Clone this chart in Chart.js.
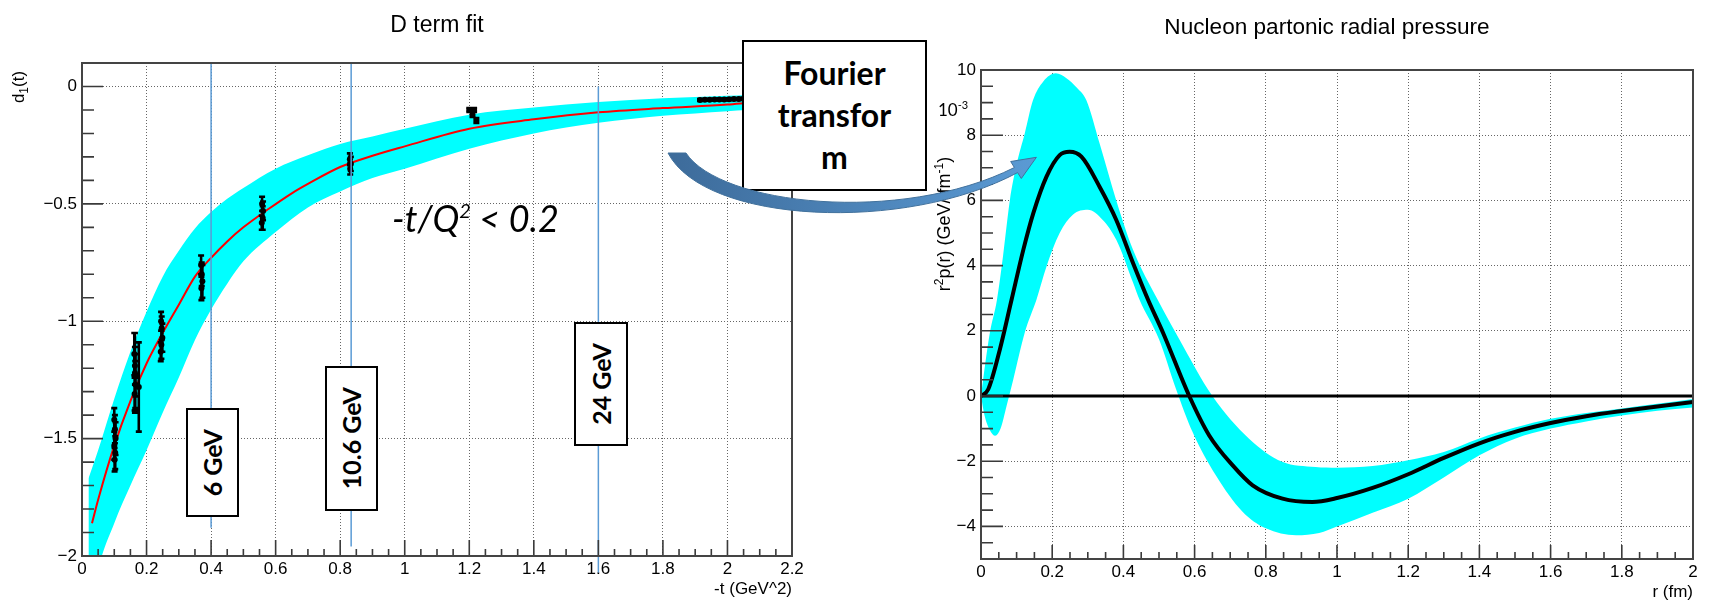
<!DOCTYPE html>
<html><head><meta charset="utf-8">
<script src="https://cdn.jsdelivr.net/npm/chart.js@4.4.1/dist/chart.umd.min.js"></script>
<style>
html,body{margin:0;padding:0;width:1709px;height:603px;overflow:hidden;background:#fff;}
canvas{position:absolute;top:0;}
#c1{left:0;}
#c2{left:930px;}
.box{position:absolute;background:#fff;border:2px solid #000;box-sizing:border-box;display:flex;align-items:center;justify-content:center;font-family:Lato,'Open Sans',sans-serif;font-weight:bold;color:#000;}
.vt{writing-mode:vertical-rl;transform:rotate(180deg);font-size:25px;white-space:nowrap;line-height:1;}
#ft{position:absolute;left:742px;top:40px;width:185px;height:151px;box-sizing:border-box;border:2px solid #000;background:#fff;text-align:center;font-family:Lato,'Open Sans',sans-serif;font-weight:bold;font-size:32px;line-height:42px;padding-top:10px;color:#000;}
#tq{position:absolute;left:392px;top:200px;font-family:Lato,'Open Sans',sans-serif;font-style:italic;font-size:36px;line-height:36px;color:#000;white-space:nowrap;}
#tq span{font-size:20px;position:relative;top:-14px;}
svg{position:absolute;left:0;top:0;pointer-events:none;}
</style>
</head><body>
<canvas id="c1" width="874" height="603"></canvas>
<canvas id="c2" width="779" height="603"></canvas>
<div class="box" style="left:186px;top:408px;width:53px;height:109px"><span class="vt">6 GeV</span></div>
<div class="box" style="left:325px;top:366px;width:53px;height:145px"><span class="vt">10.6 GeV</span></div>
<div class="box" style="left:574px;top:322px;width:54px;height:124px"><span class="vt">24 GeV</span></div>
<div id="tq">-t/Q<span>2</span> &lt; 0.2</div>
<div id="ft">Fourier<br>transfor<br>m</div>
<svg width="1709" height="603">
<defs><linearGradient id="ag" x1="668" y1="0" x2="1040" y2="0" gradientUnits="userSpaceOnUse"><stop offset="0" stop-color="#3d6b9a"/><stop offset="1" stop-color="#5b9bd5"/></linearGradient></defs>
<path d="M668,153 L686,153 C720,205 900,225 1014.4,167.5 L1010.7,161.5 L1036.4,157.3 L1021.3,178.5 L1017.6,172.6 C905,233 705,224 668,153 Z" fill="url(#ag)" stroke="#41719c" stroke-width="1"/>
</svg>
<script>
// ---------- Left chart: D term fit ----------
const leftXTicks = [0,0.2,0.4,0.6,0.8,1,1.2,1.4,1.6,1.8,2,2.2];
const leftXLabels = ['0','0.2','0.4','0.6','0.8','1','1.2','1.4','1.6','1.8','2','2.2'];
const leftYTicks = [-2,-1.5,-1,-0.5,0];
const leftYLabels = ['\u22122','\u22121.5','\u22121','\u22120.5','0'];

const bandT  = [0.02,0.05,0.1,0.15,0.2,0.25,0.3,0.35,0.4,0.45,0.5,0.6,0.7,0.8,0.9,1.0,1.2,1.4,1.6,1.8,2.0,2.06];
const bandHi = [-1.67,-1.55,-1.33,-1.13,-0.96,-0.81,-0.70,-0.605,-0.535,-0.478,-0.432,-0.35,-0.293,-0.245,-0.213,-0.18,-0.12,-0.09,-0.066,-0.05,-0.04,-0.036];
const bandLo = [-2.3,-2.06,-1.86,-1.70,-1.55,-1.39,-1.24,-1.08,-0.95,-0.84,-0.745,-0.62,-0.515,-0.447,-0.39,-0.35,-0.265,-0.2,-0.155,-0.125,-0.105,-0.1];

const fitT = [0.031,0.05,0.1,0.15,0.2,0.25,0.3,0.35,0.4,0.45,0.5,0.58,0.65,0.7,0.8,0.9,1.0,1.2,1.4,1.6,1.8,2.0,2.06];
const fitD = [-1.86,-1.76,-1.53,-1.34,-1.18,-1.05,-0.93,-0.81,-0.73,-0.66,-0.6,-0.52,-0.455,-0.415,-0.343,-0.295,-0.255,-0.18,-0.14,-0.11,-0.092,-0.077,-0.07];

const ptT = [0.100,0.102,0.104,0.100,0.103,0.101, 0.162,0.164,0.166,0.165,0.163,0.176,0.164, 0.245,0.247,0.249,0.246,0.244, 0.369,0.371,0.373,0.370, 0.558,0.561,0.560,0.557, 0.830,0.833,0.831, 1.200,1.215,1.210,1.222, 1.915,1.93,1.945,1.96,1.975,1.99,2.005,2.02,2.035,2.05];
const ptD = [-1.42,-1.46,-1.50,-1.53,-1.56,-1.59, -1.14,-1.19,-1.23,-1.27,-1.31,-1.28,-1.22, -1.00,-1.03,-1.07,-1.10,-1.13, -0.76,-0.80,-0.83,-0.86, -0.50,-0.53,-0.56,-0.58, -0.31,-0.33,-0.35, -0.10,-0.10,-0.12,-0.145, -0.058,-0.057,-0.057,-0.056,-0.055,-0.055,-0.054,-0.053,-0.053,-0.052];
const ptErr = [0.05,0.06,0.07,0.06,0.07,0.05, 0.09,0.08,0.09,0.10,0.07,0.19,0.17, 0.04,0.05,0.06,0.06,0.04, 0.04,0.05,0.07,0.05, 0.03,0.04,0.05,0.03, 0.025,0.03,0.025, 0.008,0.008,0.01,0.01, 0.004,0.004,0.004,0.004,0.004,0.004,0.004,0.004,0.004,0.004];

const markerT = [0.4, 0.834, 1.6];
const markerTop = [0.1, 0.1, 0];
const markerBottom = [-1.88, -1.96, -2.07];

// ---------- Right chart: radial pressure ----------
const rightXTicks = [0,0.2,0.4,0.6,0.8,1,1.2,1.4,1.6,1.8,2];
const rightXLabels = ['0','0.2','0.4','0.6','0.8','1','1.2','1.4','1.6','1.8','2'];
const rightYTicks = [-4,-2,0,2,4,6,8,10];
const rightYLabels = ['\u22124','\u22122','0','2','4','6','8','10'];

const hiR = [0,0.011,0.025,0.045,0.062,0.081,0.1,0.123,0.146,0.175,0.21,0.24,0.27,0.296,0.333,0.38,0.427,0.496,0.557,0.65,0.753,0.846,0.94,1.0,1.1,1.2,1.3,1.4,1.5,1.6,1.7,1.8,1.9,2.0];
const hiV = [0,0.92,1.95,2.96,4.3,6.0,7.1,8.06,9.07,9.65,9.9,9.75,9.45,9.07,7.75,6.0,4.49,2.96,1.74,0,-1.31,-2.02,-2.18,-2.2,-2.15,-1.97,-1.72,-1.3,-0.97,-0.7,-0.52,-0.38,-0.24,-0.09];
const loR = [0,0.01,0.025,0.04,0.055,0.072,0.091,0.123,0.156,0.184,0.221,0.258,0.3,0.342,0.38,0.427,0.445,0.5,0.548,0.594,0.66,0.734,0.8,0.885,0.95,1.0,1.1,1.2,1.3,1.4,1.5,1.6,1.7,1.8,1.9,2.0];
const loV = [0,-0.6,-1.05,-1.22,-1.0,-0.3,0.52,1.95,2.96,3.97,5.0,5.56,5.71,5.4,4.79,3.48,2.96,1.74,0.21,-1.1,-2.44,-3.54,-4.06,-4.27,-4.2,-4.0,-3.58,-3.15,-2.5,-1.82,-1.31,-1.0,-0.78,-0.6,-0.45,-0.35];
const cR = [0,0.02,0.053,0.086,0.119,0.147,0.184,0.221,0.249,0.282,0.333,0.38,0.427,0.469,0.511,0.585,0.641,0.707,0.763,0.847,0.931,1.0,1.1,1.2,1.3,1.4,1.5,1.6,1.7,1.8,1.9,2.0];
const cV = [0,0.2,1.43,2.96,4.49,5.61,6.73,7.39,7.49,7.34,6.42,5.4,4.08,2.96,1.95,0,-1.21,-2.13,-2.74,-3.15,-3.25,-3.13,-2.82,-2.4,-1.9,-1.45,-1.1,-0.83,-0.62,-0.46,-0.32,-0.18];
const zeroR = [0, 2];
const zeroV = [0, 0];

const xy = (xs, ys) => xs.map((v, i) => ({x: v, y: ys[i]}));
const ROOTFONT = "'Liberation Sans', Arial, sans-serif";

// ROOT-style frame with inward tick marks
const rootAxes = {
  id: 'rootAxes',
  afterDraw(chart, args, o) {
    const {ctx, chartArea: a} = chart;
    const xs = chart.scales.x, ys = chart.scales.y;
    ctx.save();
    ctx.strokeStyle = '#3a3a3a';
    ctx.lineWidth = 1.6;
    ctx.beginPath();
    const n1 = Math.round((xs.max - xs.min) / o.xMinor);
    for (let k = 0; k <= n1; k++) {
      const v = xs.min + k * o.xMinor;
      const maj = o.xMajor.some(m => Math.abs(m - v) < 1e-6);
      const px = xs.getPixelForValue(v);
      ctx.moveTo(px, a.bottom); ctx.lineTo(px, a.bottom - (maj ? o.xMajLen : o.xMinLen));
    }
    const n2 = Math.round((ys.max - ys.min) / o.yMinor);
    for (let k = 0; k <= n2; k++) {
      const v = ys.min + k * o.yMinor;
      const maj = o.yMajor.some(m => Math.abs(m - v) < 1e-6);
      const py = ys.getPixelForValue(v);
      ctx.moveTo(a.left, py); ctx.lineTo(a.left + (maj ? o.yMajLen : o.yMinLen), py);
    }
    ctx.stroke();
    ctx.lineWidth = 2; ctx.strokeStyle = '#444';
    ctx.strokeRect(a.left, a.top, a.right - a.left, a.bottom - a.top);
    ctx.restore();
  }
};

// Rich text (titles with sub/superscripts)
const richText = {
  id: 'richText',
  afterDraw(chart, args, o) {
    const ctx = chart.ctx;
    (o.items || []).forEach(it => {
      ctx.save();
      ctx.translate(it.x, it.y);
      if (it.rot) ctx.rotate(it.rot * Math.PI / 180);
      ctx.textBaseline = 'alphabetic'; ctx.textAlign = 'left'; ctx.fillStyle = '#000';
      let w = 0;
      it.parts.forEach(p => { ctx.font = p.s + 'px ' + (p.f || ROOTFONT); p.w = ctx.measureText(p.t).width; w += p.w; });
      let x = it.align === 'left' ? 0 : -w / 2;
      it.parts.forEach(p => { ctx.font = p.s + 'px ' + (p.f || ROOTFONT); ctx.fillText(p.t, x, p.dy || 0); x += p.w; });
      ctx.restore();
    });
  }
};

// error bars and energy marker lines (left chart)
const extras = {
  id: 'extras',
  afterDatasetsDraw(chart, args, o) {
    if (!o.enabled) return;
    const {ctx} = chart;
    const xs = chart.scales.x, ys = chart.scales.y;
    ctx.save();
    ctx.strokeStyle = '#000'; ctx.lineWidth = 2.6;
    ctx.beginPath();
    ptT.forEach((t, i) => {
      const px = xs.getPixelForValue(t);
      const y1 = ys.getPixelForValue(ptD[i] + ptErr[i]);
      const y2 = ys.getPixelForValue(ptD[i] - ptErr[i]);
      ctx.moveTo(px, y1); ctx.lineTo(px, y2);
      ctx.moveTo(px - 3, y1); ctx.lineTo(px + 3, y1);
      ctx.moveTo(px - 3, y2); ctx.lineTo(px + 3, y2);
    });
    ctx.stroke();
    ctx.strokeStyle = '#5b9bd5'; ctx.lineWidth = 1.5;
    ctx.beginPath();
    markerT.forEach((t, i) => {
      const px = xs.getPixelForValue(t);
      ctx.moveTo(px, ys.getPixelForValue(markerTop[i]));
      ctx.lineTo(px, ys.getPixelForValue(markerBottom[i]));
    });
    ctx.stroke();
    ctx.restore();
  }
};

function scaleOpts(min, max, ticksArr, labelsArr, fitKey, fitVal, title, titlePad) {
  const o = {
    type: 'linear', min: min, max: max,
    afterBuildTicks: s => { s.ticks = ticksArr.map(v => ({value: v})); },
    afterFit: s => { s[fitKey] = fitVal; },
    ticks: {autoSkip: false, maxRotation: 0, padding: fitKey === 'height' ? 3 : 5, color: '#000',
            font: {family: ROOTFONT, size: 17}, callback: (v, i) => labelsArr[i]},
    grid: {drawTicks: false, color: '#666', lineWidth: 1, borderDash: [1, 2]},
    border: {display: false, dash: [1, 2]}
  };
  if (title) o.title = {display: true, text: title, align: 'end', color: '#000', font: {family: ROOTFONT, size: 17}, padding: {top: 0, bottom: titlePad}};
  return o;
}

const common = {
  responsive: false, animation: false, events: [],
  elements: {point: {radius: 0}},
};

new Chart(document.getElementById('c1'), {
  type: 'line',
  data: {datasets: [
    {data: xy(bandT, bandHi), fill: '+1', backgroundColor: '#00ffff', borderColor: 'rgba(0,0,0,0)', borderWidth: 0, pointRadius: 0, cubicInterpolationMode: 'monotone', order: 10},
    {data: xy(bandT, bandLo), fill: false, borderColor: 'rgba(0,0,0,0)', borderWidth: 0, pointRadius: 0, cubicInterpolationMode: 'monotone', order: 11},
    {data: xy(fitT, fitD), borderColor: '#ff0000', borderWidth: 2, pointRadius: 0, cubicInterpolationMode: 'monotone', fill: false, order: 5},
    {data: xy(ptT, ptD), showLine: false, pointRadius: 3, pointBackgroundColor: '#000', pointBorderWidth: 0, order: 1}
  ]},
  options: Object.assign({}, common, {
    layout: {padding: {left: 0, right: 82, top: 63, bottom: 0}},
    scales: {
      x: scaleOpts(0, 2.2, leftXTicks, leftXLabels, 'height', 47, '-t (GeV^2)', 3),
      y: scaleOpts(-2, 0.1, leftYTicks, leftYLabels, 'width', 82)
    },
    plugins: {
      legend: {display: false}, tooltip: {enabled: false}, title: {display: false},
      rootAxes: {xMinor: 0.05, yMinor: 0.1, xMajor: leftXTicks, yMajor: leftYTicks, xMajLen: 16, xMinLen: 7, yMajLen: 21, yMinLen: 12},
      extras: {enabled: true},
      richText: {items: [
        {x: 437, y: 31.5, parts: [{t: 'D term fit', s: 23}]},
        {x: 24, y: 87, rot: -90, parts: [{t: 'd', s: 17}, {t: '1', s: 12, dy: 4}, {t: '(t)', s: 17}]}
      ]}
    }
  }),
  plugins: [rootAxes, extras, richText]
});

new Chart(document.getElementById('c2'), {
  type: 'line',
  data: {datasets: [
    {data: xy(hiR, hiV), fill: '+1', backgroundColor: '#00ffff', borderColor: 'rgba(0,0,0,0)', borderWidth: 0, pointRadius: 0, cubicInterpolationMode: 'monotone', order: 10},
    {data: xy(loR, loV), fill: false, borderColor: 'rgba(0,0,0,0)', borderWidth: 0, pointRadius: 0, cubicInterpolationMode: 'monotone', order: 11},
    {data: xy(zeroR, zeroV), borderColor: '#000', borderWidth: 3, pointRadius: 0, fill: false, order: 3},
    {data: xy(cR, cV), borderColor: '#000', borderWidth: 4, pointRadius: 0, cubicInterpolationMode: 'monotone', fill: false, order: 1}
  ]},
  options: Object.assign({}, common, {
    layout: {padding: {left: 0, right: 16, top: 70, bottom: 0}},
    scales: {
      x: scaleOpts(0, 2, rightXTicks, rightXLabels, 'height', 44, 'r (fm)', 0),
      y: scaleOpts(-5, 10, rightYTicks, rightYLabels, 'width', 51)
    },
    plugins: {
      legend: {display: false}, tooltip: {enabled: false}, title: {display: false},
      rootAxes: {xMinor: 0.05, yMinor: 0.5, xMajor: rightXTicks, yMajor: rightYTicks, xMajLen: 14, xMinLen: 7, yMajLen: 22, yMinLen: 12},
      extras: {enabled: false},
      richText: {items: [
        {x: 397, y: 34, parts: [{t: 'Nucleon partonic radial pressure', s: 22.6}]},
        {x: 20, y: 224, rot: -90, parts: [{t: 'r', s: 18}, {t: '2', s: 12, dy: -7}, {t: 'p(r) (GeV/ fm', s: 18}, {t: '-1', s: 12, dy: -7}, {t: ')', s: 18}]},
        {x: 8, y: 116, align: 'left', parts: [{t: '10', s: 17, f: 'Lato, sans-serif'}, {t: '-3', s: 11, dy: -7, f: 'Lato, sans-serif'}]}
      ]}
    }
  }),
  plugins: [rootAxes, extras, richText]
});
</script>
</body></html>
